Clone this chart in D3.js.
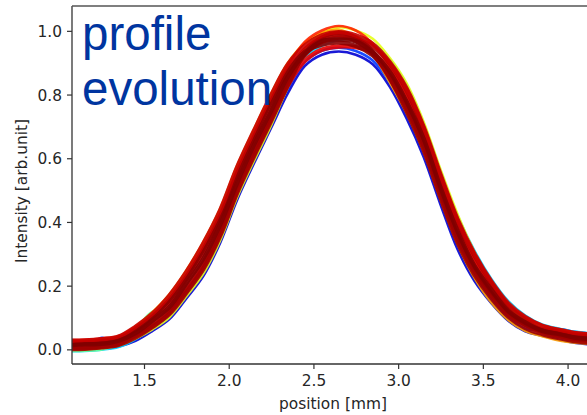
<!DOCTYPE html>
<html>
<head>
<meta charset="utf-8">
<script src="https://cdn.jsdelivr.net/npm/d3@7"></script>
<style>
  html, body { margin: 0; padding: 0; background: #ffffff; }
  svg { display: block; }
</style>
</head>
<body>
<svg id="chart" width="587" height="415"></svg>
<script>
// ---------------- data ----------------
const positions = [1.05,1.15,1.25,1.35,1.45,1.55,1.65,1.75,1.85,1.95,2.05,2.15,2.25,2.35,2.45,2.55,
                   2.65,2.75,2.85,2.95,3.05,3.15,3.25,3.35,3.45,3.55,3.65,3.75,3.85,3.95,4.05,4.15];

const scan00 = [-0.004,0.000,0.001,0.009,0.027,0.058,0.095,0.160,0.230,0.335,0.470,0.585,0.695,0.805,0.890,0.925,
                0.935,0.925,0.895,0.825,0.725,0.605,0.455,0.315,0.215,0.145,0.090,0.057,0.043,0.030,0.020,0.015];
const scan01 = [-0.001,0.000,0.036,0.012,0.035,0.067,0.107,0.174,0.247,0.352,0.487,0.602,0.712,0.820,0.902,0.937,
                0.947,0.937,0.907,0.839,0.742,0.622,0.472,0.332,0.230,0.157,0.100,0.065,0.060,0.064,0.054,0.049];
const scan02 = [-0.006,-0.005,-0.001,0.007,0.032,0.070,0.115,0.183,0.258,0.363,0.498,0.613,0.723,0.835,0.918,0.953,
                0.971,0.977,0.959,0.911,0.830,0.710,0.560,0.420,0.310,0.221,0.151,0.106,0.078,0.065,0.055,0.050];
const scan03 = [-0.005,-0.004,0.000,0.016,0.062,0.118,0.123,0.174,0.247,0.352,0.487,0.602,0.712,0.825,0.926,0.979,
                0.993,0.983,0.959,0.902,0.819,0.699,0.549,0.409,0.300,0.213,0.144,0.099,0.072,0.059,0.049,0.044];
const scan04 = [-0.001,0.000,0.004,0.012,0.034,0.063,0.101,0.167,0.238,0.343,0.478,0.593,0.703,0.825,0.938,0.993,
                1.011,1.001,0.975,0.915,0.835,0.715,0.565,0.425,0.305,0.205,0.132,0.091,0.066,0.053,0.043,0.038];
const scan05 = [0.025,0.026,0.030,0.040,0.072,0.117,0.173,0.248,0.337,0.442,0.577,0.692,0.802,0.900,0.962,0.993,
                1.003,0.979,0.927,0.839,0.742,0.622,0.472,0.332,0.225,0.147,0.092,0.058,0.041,0.028,0.021,0.016];
const scan06 = [0.029,0.030,0.034,0.042,0.070,0.106,0.159,0.232,0.318,0.423,0.558,0.673,0.783,0.890,0.966,1.001,
                1.015,1.001,0.959,0.888,0.802,0.682,0.532,0.392,0.285,0.201,0.141,0.101,0.076,0.063,0.053,0.048];
const scan07 = [0.007,0.008,0.012,0.020,0.042,0.073,0.115,0.183,0.258,0.363,0.498,0.613,0.723,0.830,0.906,0.941,
                0.951,0.949,0.931,0.875,0.786,0.666,0.516,0.376,0.270,0.189,0.125,0.078,0.054,0.041,0.031,0.026];
const scan08 = [0.021,0.022,0.026,0.034,0.060,0.097,0.147,0.219,0.302,0.407,0.542,0.657,0.767,0.870,0.942,0.977,
                0.987,0.969,0.927,0.852,0.758,0.638,0.488,0.348,0.245,0.169,0.109,0.078,0.064,0.055,0.045,0.040];
const scan09 = [0.003,0.004,0.008,0.016,0.047,0.082,0.127,0.196,0.274,0.379,0.514,0.629,0.739,0.845,0.926,0.965,
                0.979,0.973,0.951,0.897,0.813,0.693,0.543,0.403,0.295,0.209,0.138,0.091,0.060,0.043,0.033,0.028];
const scan10 = [0.017,0.018,0.022,0.030,0.062,0.103,0.155,0.228,0.313,0.418,0.553,0.668,0.778,0.875,0.934,0.957,
                0.963,0.953,0.923,0.861,0.769,0.649,0.499,0.359,0.255,0.177,0.116,0.078,0.060,0.051,0.041,0.036];
const scan11 = [0.001,0.002,0.006,0.014,0.037,0.070,0.111,0.178,0.252,0.357,0.492,0.607,0.717,0.830,0.930,0.979,
                0.993,0.979,0.935,0.852,0.747,0.627,0.477,0.337,0.235,0.161,0.103,0.067,0.048,0.035,0.025,0.020];
const scan12 = [0.027,0.028,0.032,0.040,0.071,0.112,0.169,0.243,0.332,0.437,0.572,0.687,0.797,0.895,0.954,0.986,
                0.996,0.986,0.959,0.902,0.819,0.699,0.549,0.409,0.300,0.213,0.144,0.101,0.074,0.061,0.051,0.046];
const scan13 = [0.012,0.016,0.017,0.027,0.051,0.090,0.133,0.207,0.284,0.392,0.523,0.642,0.748,0.857,0.928,0.968,
                0.973,0.967,0.933,0.872,0.778,0.662,0.508,0.372,0.263,0.187,0.120,0.085,0.058,0.048,0.036,0.033];

// acquisition order of each scan (0 = first, 1 = last), mapped to the jet colormap
const scanOrder = [0.08,0.18,0.33,0.48,0.60,0.72,0.84,0.90,0.94,0.96,0.99,0.97,0.93,1.00];
const scans = [scan00,scan01,scan02,scan03,scan04,scan05,scan06,scan07,scan08,scan09,scan10,scan11,scan12,scan13];

const xTicks = [1.5,2.0,2.5,3.0,3.5,4.0];
const yTicks = [0.0,0.2,0.4,0.6,0.8,1.0];

// ---------------- layout ----------------
const svg = d3.select("#chart");
const L = 72, R = 594, T = 6, B = 364;
const x = d3.scaleLinear().domain([1.075, 4.156]).range([L, R]);
const y = d3.scaleLinear().domain([-0.046, 1.078]).range([B, T]);

const jet = d3.scaleLinear()
  .domain([0, 0.125, 0.375, 0.625, 0.875, 1])
  .range(["#000080", "#0000ff", "#00ffff", "#ffff00", "#ff0000", "#800000"])
  .interpolate(d3.interpolateRgb);

svg.append("defs").append("clipPath").attr("id", "plotclip")
  .append("rect").attr("x", L).attr("y", T).attr("width", R - L).attr("height", B - T);

const line = d3.line()
  .x((d, i) => x(positions[i]))
  .y(d => y(d))
  .curve(d3.curveCatmullRom.alpha(0.5));

const g = svg.append("g").attr("clip-path", "url(#plotclip)");
scans.forEach((s, k) => {
  g.append("path")
    .attr("d", line(s))
    .attr("fill", "none")
    .attr("stroke", jet(scanOrder[k]))
    .attr("stroke-width", scanOrder[k] > 0.89 ? 4.4 : 2.6)
    .attr("stroke-opacity", 0.9)
    .attr("stroke-linejoin", "round");
});

// ---------------- axes ----------------
const fontFam = "'DejaVu Sans', sans-serif";
const fs = "15.4px";
const xAxis = svg.append("g").attr("transform", `translate(0,${B})`)
  .call(d3.axisBottom(x).tickValues(xTicks).tickFormat(d3.format(".1f")).tickSizeInner(5).tickSizeOuter(0).tickPadding(6));
const yAxis = svg.append("g").attr("transform", `translate(${L},0)`)
  .call(d3.axisLeft(y).tickValues(yTicks).tickFormat(d3.format(".1f")).tickSizeInner(5).tickSizeOuter(0).tickPadding(5));

[xAxis, yAxis].forEach(a => {
  a.select(".domain").remove();
  a.selectAll(".tick line").attr("stroke", "#333").attr("stroke-width", 1.2);
  a.selectAll(".tick text").attr("fill", "#262626").style("font-family", fontFam).style("font-size", fs);
});
yAxis.selectAll(".tick text").attr("dy", "0.36em");

// spines (left, bottom, top)
svg.append("line").attr("x1", L).attr("x2", L).attr("y1", T).attr("y2", B).attr("stroke", "#333").attr("stroke-width", 1.3);
svg.append("line").attr("x1", L).attr("x2", R).attr("y1", B).attr("y2", B).attr("stroke", "#333").attr("stroke-width", 1.3);
svg.append("line").attr("x1", L).attr("x2", R).attr("y1", T).attr("y2", T).attr("stroke", "#555").attr("stroke-width", 1.6);

// axis labels
svg.append("text").attr("x", (L + R) / 2).attr("y", 409).attr("text-anchor", "middle")
  .attr("fill", "#262626").style("font-family", fontFam).style("font-size", fs).text("position [mm]");
svg.append("text").attr("transform", `translate(27,191) rotate(-90)`).attr("text-anchor", "middle")
  .attr("fill", "#262626").style("font-family", fontFam).style("font-size", fs).text("Intensity [arb.unit]");

// annotation
const ann = svg.append("text").attr("fill", "#0035a0")
  .style("font-family", "'Liberation Sans', Arial, sans-serif").style("font-size", "47.5px");
ann.append("tspan").attr("x", 82).attr("y", 50).text("profile");
ann.append("tspan").attr("x", 82).attr("y", 105).text("evolution");
</script>
</body>
</html>
